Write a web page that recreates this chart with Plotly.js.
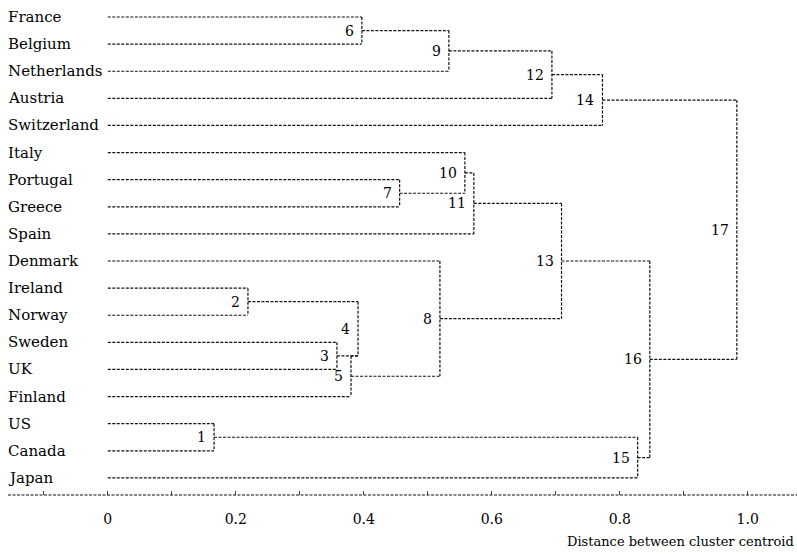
<!DOCTYPE html>
<html>
<head>
<meta charset="utf-8">
<script src="https://cdn.plot.ly/plotly-3.0.1.min.js"></script>
<style>html,body{margin:0;padding:0;background:#fff;}#chart{width:797px;height:554px;}</style>
</head>
<body>
<div id="chart"></div>
<script>
// Leaves, top to bottom
const leaves = ['France','Belgium','Netherlands','Austria','Switzerland','Italy','Portugal','Greece','Spain',
  'Denmark','Ireland','Norway','Sweden','UK','Finland','US','Canada','Japan'];
// Merge steps: children are leaf names or earlier step numbers
const mergeStep  = [1, 2, 3, 4, 5, 6, 7, 8, 9, 10, 11, 12, 13, 14, 15, 16, 17];
const mergeLeft  = ['US','Ireland','Sweden',2,4,'France','Portugal','Denmark',6,'Italy',10,9,11,12,1,13,14];
const mergeRight = ['Canada','Norway','UK',3,'Finland','Belgium','Greece',5,'Netherlands',7,'Spain','Austria',8,'Switzerland','Japan',15,16];
const mergeHeight = [0.166,0.219,0.358,0.391,0.380,0.397,0.456,0.519,0.533,0.558,0.572,0.694,0.709,0.773,0.828,0.847,0.983];
const tickVals = [0,0.2,0.4,0.6,0.8,1.0];
const tickText = ['0','0.2','0.4','0.6','0.8','1.0'];
const axisTitle = 'Distance between cluster centroid';

const FONT = 'DejaVu Serif';
const LINE = '#111';
const TXT = '#000';

// parent lookup
const parentH = {};
mergeStep.forEach((s,i)=>{
  [mergeLeft[i], mergeRight[i]].forEach(c=>{ if(typeof c==='number') parentH[c]=mergeHeight[i]; });
});
const nodeY = {}, nodeX = {};
function childY(c){ return typeof c==='number' ? nodeY[c] : leaves.indexOf(c); }
function childX(c){ return typeof c==='number' ? nodeX[c] : 0; }

const xs=[], ys=[];
const annotations=[];
mergeStep.forEach((s,i)=>{
  const h = mergeHeight[i];
  const l = mergeLeft[i], r = mergeRight[i];
  const yl = childY(l), yr = childY(r);
  xs.push(childX(l), h, null); ys.push(yl, yl, null);
  xs.push(childX(r), h, null); ys.push(yr, yr, null);
  xs.push(h, h, null); ys.push(yl, yr, null);
  const mid = (yl+yr)/2;
  nodeX[s] = h;
  nodeY[s] = (parentH[s] !== undefined && parentH[s] < h) ? yr : mid;
  annotations.push({x:h, y:mid, xref:'x', yref:'y', text:String(s), showarrow:false,
    xanchor:'right', yanchor:'middle', xshift:-6, font:{family:FONT, size:14, color:TXT}});
});
leaves.forEach((n,i)=>{
  annotations.push({x:0, y:i, xref:'paper', yref:'y', text:n, showarrow:false,
    xanchor:'left', yanchor:'middle', xshift:-2, font:{family:FONT, size:15, color:TXT}});
});
annotations.push({x:1, y:-0.094, xref:'paper', yref:'paper', text:axisTitle, showarrow:false,
  xanchor:'right', yanchor:'middle', xshift:-1, font:{family:FONT, size:13, color:TXT}});

const trace = {x:xs, y:ys, mode:'lines', type:'scatter', hoverinfo:'skip',
  line:{color:LINE, width:1.2, dash:'3px,1.5px'}, connectgaps:false};

const layout = {
  width:797, height:554,
  margin:{l:8, r:0, t:0, b:59},
  paper_bgcolor:'#fff', plot_bgcolor:'#fff',
  showlegend:false,
  font:{family:FONT, color:TXT},
  xaxis:{range:[-0.156,1.077], showgrid:false, zeroline:false, showline:false,
    tickvals:tickVals, ticktext:tickText, ticks:'inside', ticklen:4, tickcolor:'#444', tickwidth:1,
    minor:{dtick:0.1, tick0:0, ticks:'inside', ticklen:4, tickcolor:'#444', showgrid:false},
    ticklabelstandoff:14,
    tickfont:{family:FONT, size:14, color:TXT}},
  yaxis:{range:[17.63,-0.627], showgrid:false, zeroline:false, showline:false, showticklabels:false, ticks:''},
  shapes:[{type:'line', xref:'paper', yref:'paper', x0:0, x1:1, y0:0, y1:0,
    line:{color:LINE, width:1.2, dash:'3px,1.5px'}}],
  annotations:annotations
};
Plotly.newPlot('chart',[trace],layout,{staticPlot:true, displayModeBar:false});
</script>
</body>
</html>
